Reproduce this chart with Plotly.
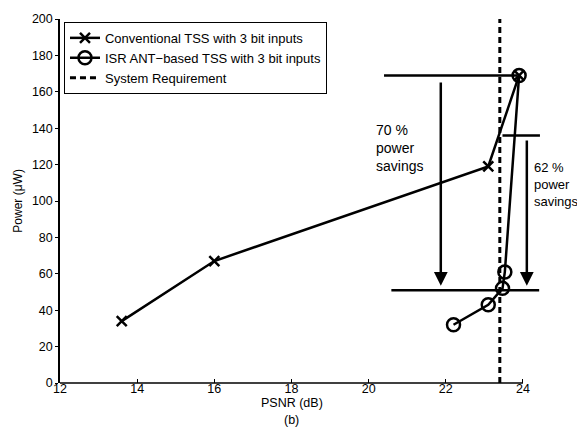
import plotly.graph_objects as go

# PSNR (dB) vs. power (uW)
conv_psnr = [13.6, 16.0, 23.1, 23.9]
conv_power = [34, 67, 119, 169]

isr_psnr = [22.2, 23.1, 23.47, 23.53, 23.9]
isr_power = [32, 43, 52, 61, 169]

req_psnr = 23.4

x_ticks = [12, 14, 16, 18, 20, 22, 24]
y_ticks = [0, 20, 40, 60, 80, 100, 120, 140, 160, 180, 200]

# reference levels for the power-savings brackets
conv_level = 169
isr_level = 136
low_level = 51

FONT = "Liberation Sans, Arial, sans-serif"

fig = go.Figure()

fig.add_trace(go.Scatter(
    x=conv_psnr, y=conv_power, mode="lines+markers",
    name="Conventional TSS with 3 bit inputs",
    line=dict(color="black", width=2.5),
    marker=dict(symbol="x-thin-open", size=10, color="black",
                line=dict(color="black", width=2.5)),
))
fig.add_trace(go.Scatter(
    x=isr_psnr, y=isr_power, mode="lines+markers",
    name="ISR ANT\u2212based TSS with 3 bit inputs",
    line=dict(color="black", width=2.5),
    marker=dict(symbol="circle-open", size=13, color="black",
                line=dict(color="black", width=2.5)),
))
fig.add_trace(go.Scatter(
    x=[req_psnr, req_psnr], y=[0, 200], mode="lines",
    name="System Requirement",
    line=dict(color="black", width=3, dash="6px,4px"),
))

annotations = []


def seg(x0, y0, x1, y1, head=0):
    annotations.append(dict(
        x=x1, y=y1, ax=x0, ay=y0, xref="x", yref="y", axref="x", ayref="y",
        text="", showarrow=True, arrowhead=head, arrowsize=1.1,
        arrowwidth=2.5, arrowcolor="black", standoff=0, startstandoff=0,
    ))


# horizontal reference lines
seg(20.36, conv_level, 23.85, conv_level)
seg(23.43, isr_level, 24.44, isr_level)
seg(20.55, low_level, 24.42, low_level)
# savings arrows
seg(21.87, 166, 21.87, 53.5, head=2)
seg(24.1, 134, 24.1, 53.5, head=2)

annotations.append(dict(
    x=20.13, y=129, xref="x", yref="y", xanchor="left", yanchor="middle",
    text="70 %<br>power<br>savings", showarrow=False, align="left",
    font=dict(family=FONT, size=14, color="black"),
))
annotations.append(dict(
    x=24.24, y=109, xref="x", yref="y", xanchor="left", yanchor="middle",
    text="62 %<br>power<br>savings", showarrow=False, align="left",
    font=dict(family=FONT, size=13, color="black"),
))
annotations.append(dict(
    x=0.465, y=-0.054, xref="paper", yref="paper", xanchor="center",
    yanchor="middle", text="PSNR (dB)", showarrow=False,
    font=dict(family=FONT, size=12.5, color="black"),
))
annotations.append(dict(
    x=0.465, y=-0.103, xref="paper", yref="paper", xanchor="center",
    yanchor="middle", text="(b)", showarrow=False,
    font=dict(family=FONT, size=12.5, color="black"),
))
annotations.append(dict(
    x=-0.085, y=0.5, xref="paper", yref="paper", xanchor="center",
    yanchor="middle", text="Power (\u03bcW)", textangle=-90, showarrow=False,
    font=dict(family=FONT, size=12, color="black"),
))

# bottom axis line stops at the last tick
shapes = [dict(type="line", xref="x", yref="paper", x0=12, x1=24, y0=0, y1=0,
               line=dict(color="black", width=1.5))]

fig.update_layout(
    width=577, height=434,
    margin=dict(l=60, r=19, t=15, b=51),
    paper_bgcolor="white", plot_bgcolor="white",
    font=dict(family=FONT, size=12.5, color="black"),
    showlegend=True,
    legend=dict(
        x=0.008, y=0.992, xanchor="left", yanchor="top",
        bgcolor="white", bordercolor="black", borderwidth=1,
        font=dict(family=FONT, size=13, color="black"),
        itemwidth=30, tracegroupgap=0,
    ),
    annotations=annotations,
    shapes=shapes,
)
fig.update_xaxes(
    range=[12, 24.908], tickvals=x_ticks, showgrid=False, zeroline=False,
    showline=False,
    ticks="inside", ticklen=4, tickcolor="black",
    ticklabelstandoff=-4,
    tickfont=dict(family=FONT, size=12.5, color="black"),
)
fig.update_yaxes(
    range=[0, 200], tickvals=y_ticks, showgrid=False, zeroline=False,
    showline=True, linecolor="black", linewidth=1.5,
    ticks="outside", ticklen=3, tickcolor="black",
    tickfont=dict(family=FONT, size=12.5, color="black"),
)

fig.write_html("out.html")
